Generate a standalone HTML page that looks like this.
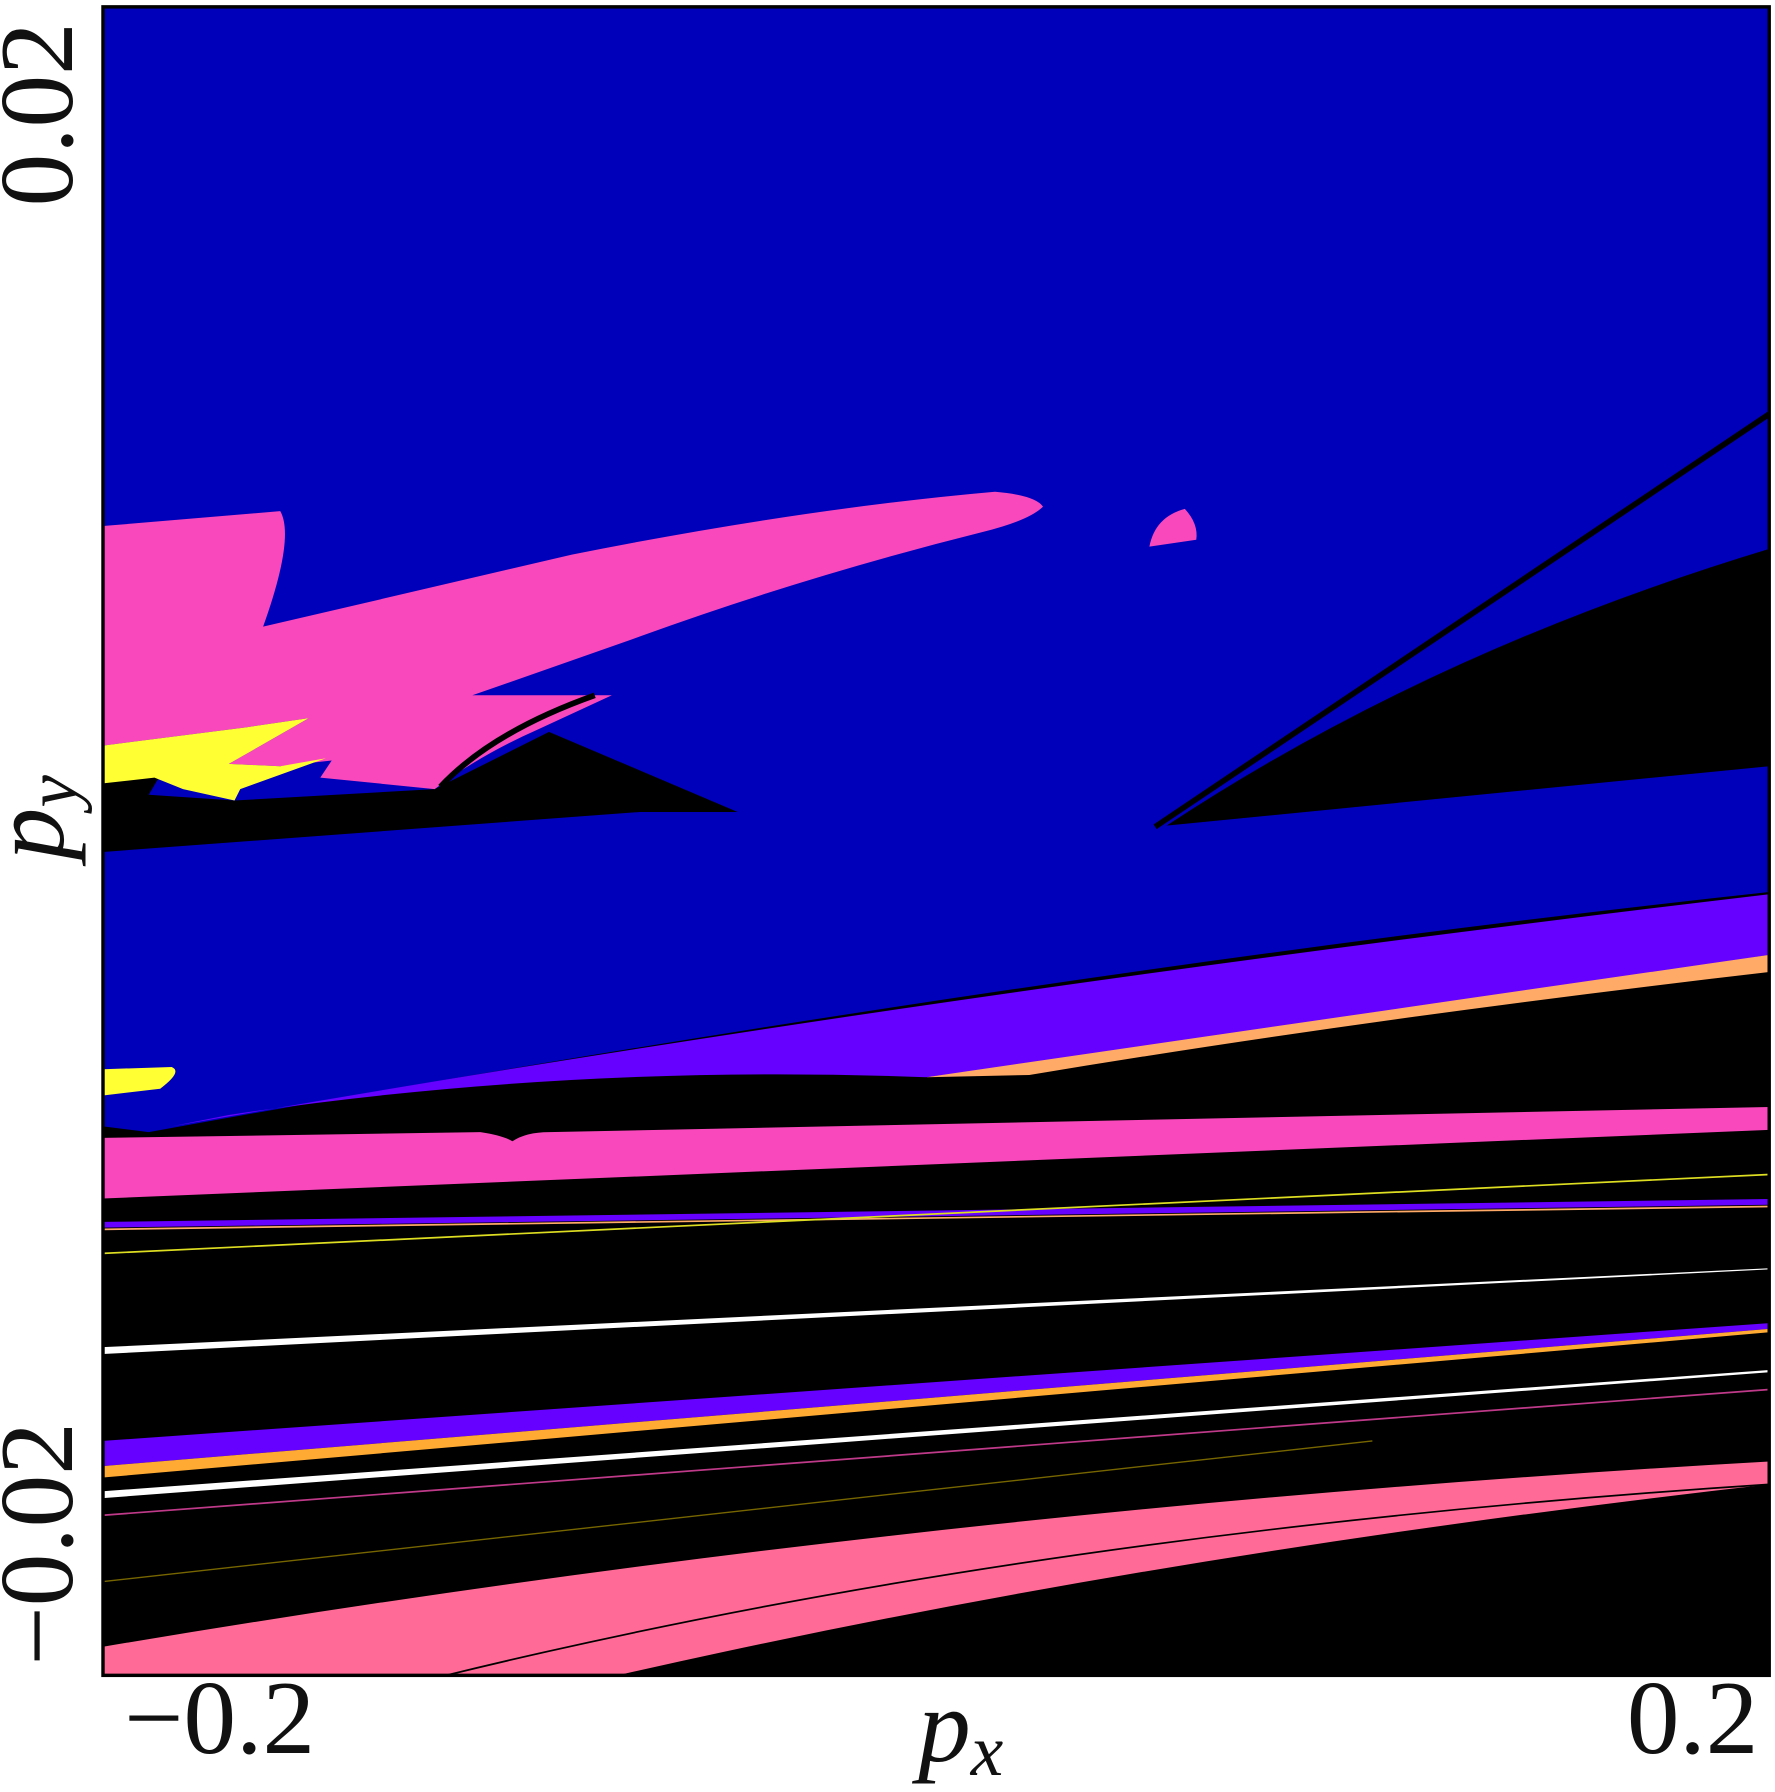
<!DOCTYPE html>
<html><head><meta charset="utf-8"><style>
html,body{margin:0;padding:0;background:#fff;}
svg{display:block;}
text{font-family:"Liberation Serif",serif;fill:#111;}
</style></head><body>
<svg width="1775" height="1792" viewBox="0 0 1552 1567" xmlns="http://www.w3.org/2000/svg">
<defs><clipPath id="pc"><rect x="90" y="6" width="1457" height="1459"/></clipPath></defs>
<g clip-path="url(#pc)">
<rect x="90" y="6" width="1457" height="1459" fill="#000"/>
<path fill="#0000bb" d="M90,6 H1547 V780 Q900,850 130,990 L90,985 Z"/>
<path fill="#6600ff" d="M150,985 Q800,870 1547,782 V835 Q1200,890 810,942 Q500,930 200,975 Z"/>
<path fill="#ffaa66" d="M810,942 Q1200,885 1547,835 V850 Q1200,890 900,940 Z"/>
<path fill="#000" d="M90,685 L140,678 L130,695 L205,700 L380,690 L480,640 L645,710 L560,710 L90,745 Z"/>
<path fill="#000" d="M1020,722 Q1250,570 1547,480 V670 Z"/>
<line x1="1010" y1="723" x2="1547" y2="362" stroke="#000" stroke-width="5"/>
<path fill="#f948bb" d="M90,460 L245,447 Q258,470 230,548 L500,485 Q700,445 870,430 Q905,433 912,443 Q900,455 860,465 Q700,505 550,560 L413,608 L535,608 L470,638 Q420,660 380,690 L280,680 L290,665 L245,670 L200,668 L270,628 L215,636 L90,652 Z"/>
<path fill="none" stroke="#000" stroke-width="5" d="M385,688 Q430,640 520,608"/>
<path fill="#ffff33" d="M90,652 L215,636 L270,628 L200,668 L245,670 L285,663 L210,690 L205,700 L160,690 L135,680 L90,685 Z"/>
<path fill="#f948bb" d="M1005,478 Q1010,452 1036,445 Q1048,458 1046,472 Z"/>
<path fill="#ffff33" d="M90,935 L150,933 Q160,937 140,952 L90,958 Z"/>
<path fill="#f948bb" d="M90,995 L420,990 Q440,993 448,998 Q460,990 480,990 L1547,968 V988 L90,1048 Z"/>
<line x1="90" y1="1071" x2="1547" y2="1051" stroke="#6600ff" stroke-width="5"/>
<line x1="90" y1="1075" x2="1547" y2="1055" stroke="#ffaa66" stroke-width="1.5"/>
<line x1="90" y1="1096" x2="1547" y2="1027" stroke="#dddd22" stroke-width="1.5"/>
<path fill="#fff" d="M90,1178 L1547,1109 V1110 L90,1184 Z"/>
<path fill="#6600ff" d="M90,1260 L1547,1157 V1162 L90,1282 Z"/>
<path fill="#ffaa33" d="M90,1282 L1547,1162 V1165 L90,1292 Z"/>
<path fill="#fff" d="M90,1304 L1547,1198 V1200 L90,1310 Z"/>
<line x1="90" y1="1325" x2="1547" y2="1215" stroke="#c03a8a" stroke-width="1.5"/>
<line x1="90" y1="1383" x2="1200" y2="1260" stroke="#776600" stroke-width="1.2"/>
<path fill="#ff6b96" d="M90,1440 Q800,1320 1547,1278 V1298 Q1000,1360 540,1465 L90,1465 Z"/>
<path fill="none" stroke="#000" stroke-width="1.5" d="M390,1465 Q900,1340 1547,1298"/>
</g>
<rect x="90" y="6" width="1457" height="1459" fill="none" stroke="#000" stroke-width="3"/>
<text x="192" y="1533" font-size="92" text-anchor="middle">−0.2</text>
<text x="1480" y="1533" font-size="92" text-anchor="middle">0.2</text>
<text x="840" y="1540" font-size="92" font-style="italic" text-anchor="middle">p<tspan font-size="64" dy="12">x</tspan></text>
<text transform="translate(63,100) rotate(-90)" font-size="92" text-anchor="middle">0.02</text>
<text transform="translate(63,1350) rotate(-90)" font-size="92" text-anchor="middle">−0.02</text>
<text transform="translate(55,715) rotate(-90)" font-size="92" font-style="italic" text-anchor="middle">p<tspan font-size="64" dy="12">y</tspan></text>
</svg>
</body></html>
